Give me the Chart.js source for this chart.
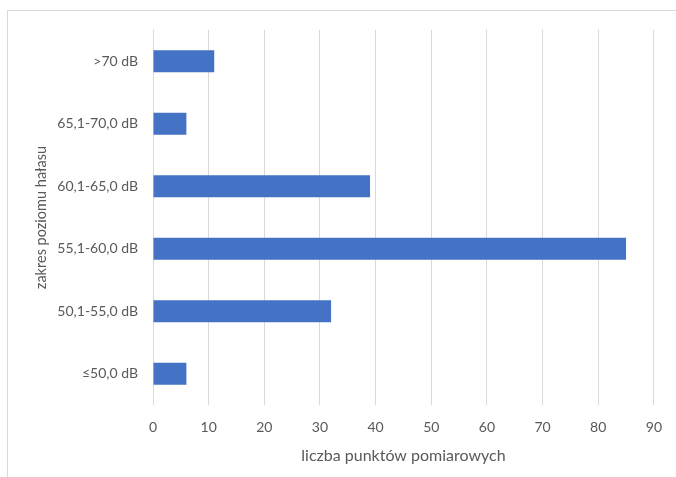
<!DOCTYPE html>
<html>
<head>
<meta charset="utf-8">
<script src="https://cdn.jsdelivr.net/npm/chart.js"></script>
<style>
    body { margin: 0; background: #fff; }
    #wrap { position: relative; width: 676px; height: 477px; overflow: hidden; }
    #frame { position: absolute; left: 7px; top: 10px; width: 720px; height: 520px; border: 1px solid #d9d9d9; }
    #noiseChart { position: absolute; left: 0; top: 0; }
</style>
</head>
<body>
<div id="wrap">
    <div id="frame"></div>
    <canvas id="noiseChart" width="676" height="477"></canvas>
</div>
<script>
let ranges = [">70 dB", "65,1-70,0 dB", "60,1-65,0 dB", "55,1-60,0 dB", "50,1-55,0 dB", "≤50,0 dB"];
let pointCounts = [11, 6, 39, 85, 32, 6];
let xTicks = [0, 10, 20, 30, 40, 50, 60, 70, 80, 90];

let fontFamily = "Lato, 'Open Sans', sans-serif";
let textColor = "#595959";

// BAR CHART
new Chart(document.getElementById("noiseChart"), {
    type: 'bar',
    data: {
        labels: ranges,
        datasets: [{
            label: 'liczba punktów pomiarowych',
            data: pointCounts,
            backgroundColor: '#4472C4',
            categoryPercentage: 1,
            barPercentage: 0.355
        }]
    },
    options: {
        indexAxis: 'y',
        responsive: false,
        animation: false,
        layout: {
            padding: {left: 33, top: 30, right: 18, bottom: 12}
        },
        plugins: {
            legend: {display: false},
            tooltip: {enabled: false}
        },
        scales: {
            x: {
                min: 0,
                max: 90,
                afterBuildTicks: axis => {
                    axis.ticks = xTicks.map(v => ({value: v}));
                },
                afterFit: axis => { axis.height = 60; },
                grid: {color: '#d9d9d9', lineWidth: 1, drawTicks: false},
                border: {display: false},
                ticks: {color: textColor, font: {family: fontFamily, size: 14}, padding: 14},
                title: {
                    display: true,
                    text: 'liczba punktów pomiarowych',
                    color: textColor,
                    font: {family: fontFamily, size: 16},
                    padding: {top: 2, bottom: 0}
                }
            },
            y: {
                afterFit: axis => { axis.width = 120; },
                grid: {display: false},
                border: {display: false},
                ticks: {color: textColor, font: {family: fontFamily, size: 14}, padding: 7},
                title: {
                    display: true,
                    text: 'zakres poziomu hałasu',
                    color: textColor,
                    font: {family: fontFamily, size: 14.5},
                    padding: {top: 0, bottom: 0}
                }
            }
        }
    }
});
</script>
</body>
</html>
